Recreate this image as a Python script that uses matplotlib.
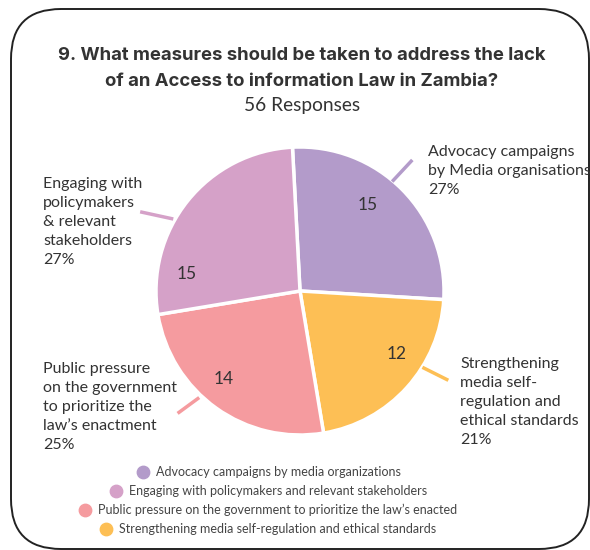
import matplotlib
matplotlib.use("Agg")
import matplotlib.pyplot as plt
from matplotlib.patches import FancyBboxPatch

plt.rcParams['font.family'] = ['Lato', 'DejaVu Sans']

# data
values = [15, 12, 14, 15]
pct_labels = ["27%", "21%", "25%", "27%"]
slice_labels = [
    "Advocacy campaigns\nby Media organisations",
    "Strengthening\nmedia self-\nregulation and\nethical standards",
    "Public pressure\non the government\nto prioritize the\nlaw\u2019s enactment",
    "Engaging with\npolicymakers\n& relevant\nstakeholders",
]
legend_labels = [
    "Advocacy campaigns by media organizations",
    "Engaging with policymakers and relevant stakeholders",
    "Public pressure on the government to prioritize the law\u2019s enacted",
    "Strengthening media self-regulation and ethical standards",
]
legend_colors = ["#b39bca", "#d5a1c8", "#f59b9f", "#fdbf55"]
colors = ["#b39bca", "#fdbf55", "#f59b9f", "#d5a1c8"]
title_lines = ["9. What measures should be taken to address the lack",
               "of an Access to information Law in Zambia?"]
subtitle = "56 Responses"

W, H = 590, 550
fig = plt.figure(figsize=(W / 100, H / 100), dpi=100)

# overlay in pixel coords for border, titles, legend
bg = fig.add_axes([0, 0, 1, 1])
bg.set_xlim(0, W)
bg.set_ylim(H, 0)
bg.axis("off")
bg.add_patch(FancyBboxPatch((11, 9), 578, 540, boxstyle="round,pad=0,rounding_size=50",
                            fc="none", ec="#222222", lw=1.4, clip_on=False))
for line, y in zip(title_lines, [56, 82]):
    bg.text(302, y, line, ha="center", va="center", fontsize=13.3, fontweight="bold",
            color="#333333", family=["Inter", "DejaVu Sans"])
bg.text(302, 105, subtitle, ha="center", va="center", fontsize=13.8, color="#333333")

# pie
cx, cy, r = 300, 291, 144
ax = fig.add_axes([(cx - r) / W, 1 - (cy + r) / H, 2 * r / W, 2 * r / H])
wedges, _ = ax.pie(values, colors=colors, startangle=93, counterclock=False,
                   wedgeprops=dict(edgecolor="white", linewidth=2.5))
ax.set_xlim(-1, 1)
ax.set_ylim(-1, 1)

# count labels inside the slices, leader lines, outside labels
num_pos = [(0.47, 0.60), (0.67, -0.44), (-0.53, -0.61), (-0.79, 0.12)]
line_pts = [((0.64, 0.76), (0.78, 0.91)), ((0.85, -0.53), (1.03, -0.62)),
            ((-0.70, -0.74), (-0.85, -0.85)), ((-0.88, 0.50), (-1.11, 0.55))]
text_pos = [(428, 145), (460, 357), (43, 362), (43, 177)]
for i, w in enumerate(wedges):
    ax.text(num_pos[i][0], num_pos[i][1], str(values[i]),
            ha="center", va="center", fontsize=12.5, color="#333333")
    (x0, y0), (x1, y1) = line_pts[i]
    ax.plot([x0, x1], [y0, y1], color=colors[i], lw=2.5, clip_on=False,
            solid_capstyle="butt")
    tx, ty = text_pos[i]
    bg.text(tx, ty, slice_labels[i] + "\n" + pct_labels[i], ha="left", va="top",
            fontsize=11.5, color="#333333", linespacing=1.45)

# legend rows, each centered
renderer = fig.canvas.get_renderer()
row_y = [472, 491, 510, 529]
for lab, col, y in zip(legend_labels, legend_colors, row_y):
    t = bg.text(278, y, lab, ha="center", va="center", fontsize=9, color="#444444")
    bb = t.get_window_extent(renderer)
    bg.scatter([bb.x0 - 13], [y], s=80, color=col, clip_on=False)

fig.savefig("out.png", dpi=100)
